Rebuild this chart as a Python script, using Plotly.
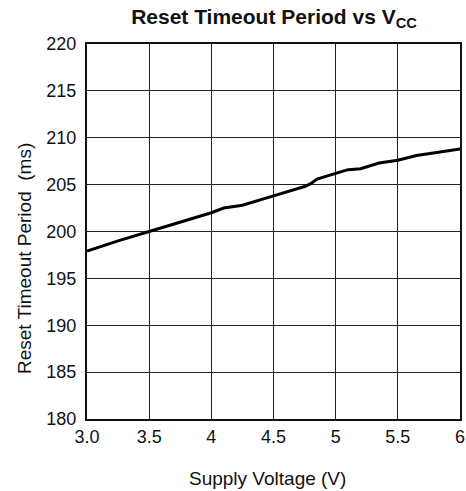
import plotly.graph_objects as go

voltage = [3.0, 3.25, 3.5, 3.75, 4.0, 4.1, 4.25, 4.5, 4.6, 4.75, 4.8, 4.85, 5.0, 5.1, 5.2, 5.35, 5.5, 5.65, 5.8, 6.0]
period = [197.9, 199.0, 200.0, 201.0, 202.0, 202.5, 202.8, 203.8, 204.2, 204.8, 205.1, 205.6, 206.2, 206.6, 206.7, 207.3, 207.6, 208.1, 208.4, 208.8]

x_ticks = [3.0, 3.5, 4, 4.5, 5, 5.5, 6]
x_tick_text = ["3.0", "3.5", "4", "4.5", "5", "5.5", "6"]
y_ticks = [180, 185, 190, 195, 200, 205, 210, 215, 220]

title_text = "<b>Reset Timeout Period vs V<sub>CC</sub></b>"
x_title = "Supply Voltage (V)"
y_title = "Reset Timeout Period  (ms)"

font = "Liberation Sans, Arial, sans-serif"
W, H = 466, 491
L, R, T, B = 87, 6, 44, 72
pw, ph = W - L - R, H - T - B

fig = go.Figure()
fig.add_trace(go.Scatter(x=voltage, y=period, mode="lines",
                         line=dict(color="black", width=3), showlegend=False,
                         hoverinfo="skip"))

fig.update_layout(
    width=W, height=H,
    margin=dict(l=L, r=R, t=T, b=B),
    paper_bgcolor="white", plot_bgcolor="white",
    font=dict(family=font, size=18, color="#111"),
    title=dict(text=title_text,
               x=274 / W, xanchor="center", xref="container", y=1 - 16.5 / H, yanchor="middle",
               font=dict(size=21, family=font, color="#111")),
    annotations=[
        dict(text=x_title, xref="paper", yref="paper",
             x=(267 - L) / pw, y=-(479 - (H - B)) / ph,
             xanchor="center", yanchor="middle", showarrow=False,
             font=dict(size=19, family=font, color="#111")),
        dict(text=y_title, xref="paper", yref="paper", textangle=-90,
             x=-(L - 24) / pw, y=((H - B) - 259) / ph,
             xanchor="center", yanchor="middle", showarrow=False,
             font=dict(size=19, family=font, color="#111")),
    ],
)
fig.update_xaxes(range=[3, 6], tickvals=x_ticks, ticktext=x_tick_text,
                 showgrid=True, gridcolor="#222", gridwidth=1,
                 showline=True, linecolor="#111", linewidth=2, mirror=True,
                 ticks="", ticklen=0, zeroline=False, automargin=False,
                 ticklabelstandoff=0,
                 tickfont=dict(size=18))
fig.update_yaxes(range=[180, 220], tickvals=y_ticks,
                 showgrid=True, gridcolor="#222", gridwidth=1,
                 showline=True, linecolor="#111", linewidth=2, mirror=True,
                 ticks="", zeroline=False, automargin=False,
                 ticklabelstandoff=5,
                 tickfont=dict(size=18))

fig.write_html("out.html", config={"displayModeBar": False},
               post_script="document.body.style.margin='0';")
